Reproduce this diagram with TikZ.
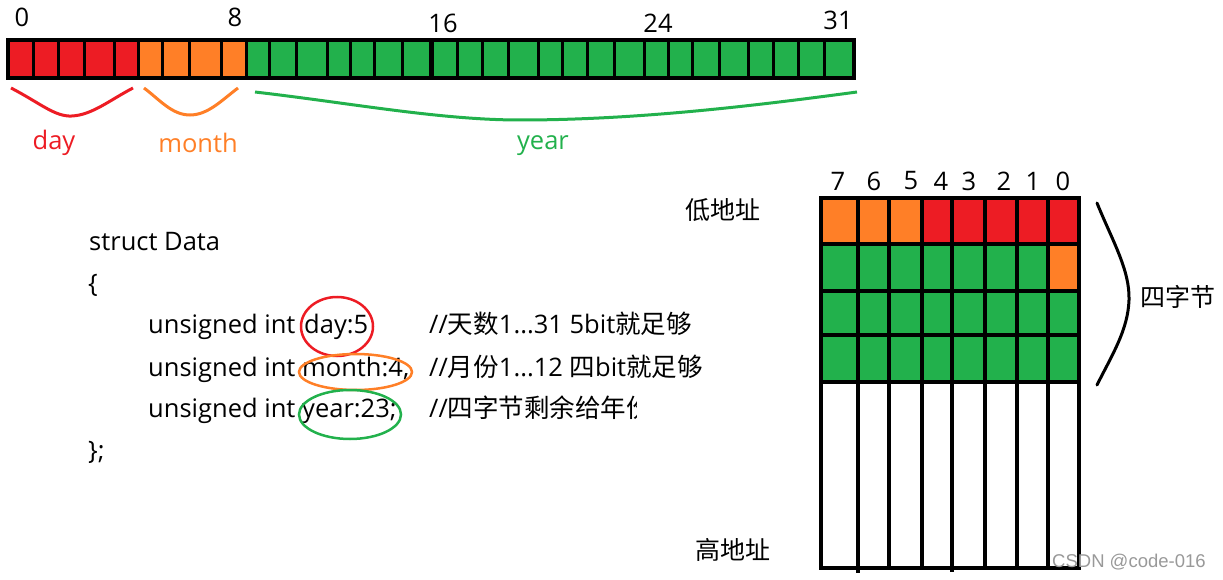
\documentclass[tikz,border=0pt]{standalone}
\usepackage{fontspec}
\setmainfont{Open Sans}
\newfontfamily\cjk{Noto Sans CJK SC}
\newfontfamily\wmfont{Liberation Sans}
\newcommand\zh[1]{{\cjk\fontsize{25.5}{30}\selectfont #1}}
\definecolor{pred}{HTML}{ED1C24}
\definecolor{porange}{HTML}{FF7F27}
\definecolor{pgreen}{HTML}{22B14C}
\tikzset{
  every node/.style={inner sep=0pt, font=\fontsize{25.5}{30}\selectfont},
  cjktext/.style={font=\cjk\fontsize{25}{29}\selectfont},
  gridline/.style={line width=4pt, line cap=rect},
  barline/.style={line width=3pt},
  brace/.style={line width=3pt, line cap=round},
  ring/.style={line width=2.5pt},
}
\begin{document}
\begin{tikzpicture}[x=1pt,y=-1pt]
\useasboundingbox (0,0) rectangle (1223,580);

% ---------- top 32-bit bar ----------
\fill[pred] (8,40) rectangle (138,78);
\fill[porange] (138,40) rectangle (246,78);
\fill[pgreen] (246,40) rectangle (854,78);
\foreach \x in {33,58,84,114,138,162,189,221,246,269,296,327,350,374,402,457,482,508,538,562,587,614,644,668,692,719,748,773,798,824}
  \draw[barline] (\x,40) -- (\x,78);
\draw[line width=5pt] (431,40) -- (431,78);
\draw[line width=4pt] (8,40) rectangle (854,78);

\node[anchor=base] (b0) at (22,27) {0};
\node[anchor=base] (b8) at (235,27) {8};
\node[anchor=base] (b16) at (443,33) {16};
\node[anchor=base] (b24) at (658,33) {24};
\node[anchor=base] (b31) at (838,30) {31};

% ---------- brace curves ----------
\draw[pred, line width=3pt] (11,88) .. controls (40,103) and (55,117) .. (72,116) .. controls (92,115) and (110,100) .. (133,88);
\draw[porange, line width=3pt] (144,88) .. controls (160,100) and (172,115) .. (190,115) .. controls (208,115) and (222,100) .. (238,88);
\draw[pgreen, line width=3pt] (255,92) .. controls (350,103) and (440,120) .. (520,120) .. controls (640,120) and (760,105) .. (857,92);

\node[anchor=base, text=pred] (lday) at (54,150) {day};
\node[anchor=base, text=porange] (lmonth) at (198,153) {month};
\node[anchor=base, text=pgreen] (lyear) at (543,150) {year};

% ---------- struct code ----------
\node[anchor=base west] (s1) at (89,250) {struct Data};
\node[anchor=base west] (s2) at (88,292) {\{};
\node[anchor=base west] (s3) at (148,333) {unsigned int};
\node[anchor=base west] (s3b) at (304,333) {day:5};
\node[anchor=base west] (s4) at (148,376) {unsigned int};
\node[anchor=base west] (s4b) at (302,376) {month:4,};
\node[anchor=base west] (s5) at (148,417) {unsigned int};
\node[anchor=base west] (s5b) at (302,417) {year:23;};
\node[anchor=base west] (s6) at (88,459) {\};};

\node[anchor=base west] (c1) at (429,333) {//\zh{天数}1...31 5bit\zh{就足够}};
\node[anchor=base west] (c2) at (429,376) {//\zh{月份}1...12 \zh{四}bit\zh{就足够}};
\begin{scope}
  \clip (420,385) rectangle (636,440);
  \node[anchor=base west] (c3) at (429,417) {//\zh{四字节剩余给年份}};
\end{scope}

\draw[pred, ring] (337,326.5) ellipse [x radius=36, y radius=29.5];
\draw[porange, ring] (355.5,372) ellipse [x radius=56.5, y radius=18];
\draw[pgreen, ring] (350,414.5) ellipse [x radius=51, y radius=24.5];

% ---------- memory grid ----------
\fill[porange] (821,198) rectangle (922,244);
\fill[pred] (922,198) rectangle (1079,244);
\fill[pgreen] (821,244) rectangle (1048,291);
\fill[porange] (1048,244) rectangle (1079,291);
\fill[pgreen] (821,291) rectangle (1079,382);
\foreach \y in {244,291,335,382}
  \draw[gridline] (821,\y) -- (1079,\y);
\foreach \x/\e in {858/571,889/568,922/565,952/570,985/568,1017/568,1048/568}
  \draw[gridline] (\x,198) -- (\x,\e);
\draw[gridline] (821,198) rectangle (1079,568);

\node (g7) at (838,181) {7};
\node (g6) at (874,181) {6};
\node (g5) at (911,181) {5};
\node (g4) at (941,181) {4};
\node (g3) at (969,181) {3};
\node (g2) at (1004,181) {2};
\node (g1) at (1033,181) {1};
\node (g0) at (1063,181) {0};

\node[cjktext] (low) at (723,210) {低地址};
\node[cjktext] (high) at (733,550) {高地址};

\draw[brace] (1097,203) .. controls (1112,240) and (1130,270) .. (1129,300) .. controls (1128,330) and (1112,355) .. (1097,385);
\node[cjktext] (four) at (1178,297) {四字节};

\node[anchor=west, text=black!40, font=\wmfont\fontsize{18.5}{20}\selectfont] (wm) at (1052,562) {CSDN @code-016};
\end{tikzpicture}
\end{document}
